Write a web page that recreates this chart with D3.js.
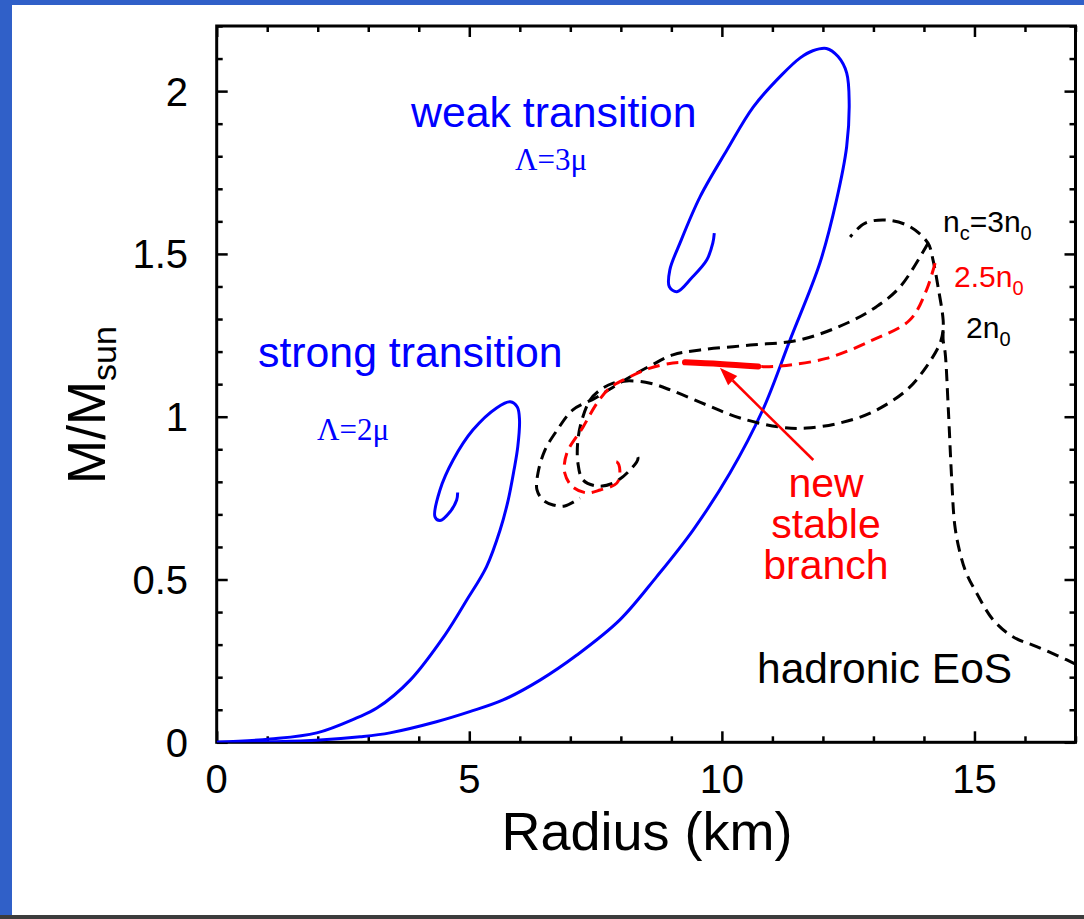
<!DOCTYPE html>
<html><head><meta charset="utf-8">
<script src="https://cdn.jsdelivr.net/npm/d3@7"></script>
<style>
html,body{margin:0;padding:0;background:#fff;}
svg{display:block;}
text{font-family:"Liberation Sans", Arial, Helvetica, sans-serif;}
</style></head><body>
<svg id="chart" width="1084" height="919"></svg>
<script>
// ---- tick definitions ----
const xMajorTicks = [0, 5, 10, 15];
const xMinorTicks = [1, 2, 3, 4, 6, 7, 8, 9, 11, 12, 13, 14, 16, 17];
const xTickLabels = ["0", "5", "10", "15"];
const yMajorTicks = [0, 0.5, 1, 1.5, 2];
const yMinorTicks = [0.1, 0.2, 0.3, 0.4, 0.6, 0.7, 0.8, 0.9, 1.1, 1.2, 1.3, 1.4, 1.6, 1.7, 1.8, 1.9, 2.1, 2.2];
const yTickLabels = ["0", "0.5", "1", "1.5", "2"];

// ---- data (Radius km, Mass Msun) ----
const weakR = [0, 1.19, 2.04, 2.84, 3.43, 4.35, 5.01, 5.67, 6.40, 7.13, 7.98, 8.71, 9.43, 10.16, 10.81, 11.35, 11.94, 12.27, 12.47, 12.52, 12.47, 12.30, 12.07, 11.80, 11.55, 11.18, 10.62, 10.10, 9.57, 9.17, 8.97, 8.96, 9.11, 9.40, 9.70, 9.82, 9.85];
const weakM = [0, 0.002, 0.007, 0.017, 0.029, 0.063, 0.094, 0.130, 0.191, 0.268, 0.376, 0.509, 0.652, 0.827, 1.021, 1.236, 1.472, 1.666, 1.829, 1.963, 2.056, 2.106, 2.131, 2.124, 2.102, 2.049, 1.951, 1.819, 1.676, 1.533, 1.451, 1.399, 1.384, 1.426, 1.481, 1.533, 1.564];

const strongR = [0, 1.06, 1.98, 2.77, 3.17, 3.83, 4.52, 4.95, 5.34, 5.61, 5.77, 5.885, 5.96, 5.994, 5.95, 5.81, 5.54, 5.07, 4.68, 4.42, 4.32, 4.42, 4.62, 4.75, 4.77];
const strongM = [0, 0.010, 0.029, 0.075, 0.105, 0.191, 0.330, 0.437, 0.539, 0.652, 0.744, 0.836, 0.908, 0.990, 1.030, 1.046, 1.027, 0.959, 0.867, 0.775, 0.693, 0.681, 0.708, 0.744, 0.767];

const hadronR = [17.0, 16.83, 16.23, 15.76, 15.37, 15.04, 14.83, 14.70, 14.61, 14.55, 14.48, 14.42, 14.38, 14.38, 14.28, 14.18, 14.08, 13.72, 13.26, 12.83, 12.54];
const hadronM = [0.240, 0.253, 0.294, 0.324, 0.376, 0.459, 0.523, 0.591, 0.667, 0.806, 1.031, 1.196, 1.236, 1.297, 1.398, 1.481, 1.533, 1.584, 1.604, 1.594, 1.552];

const n3R = [14.08, 13.53, 13.06, 12.54, 11.55, 10.56, 9.57, 9.03, 8.58, 8.18, 7.88, 7.49, 7.05, 6.74, 6.50, 6.36, 6.34, 6.46, 6.66, 6.89, 7.19];
const n3M = [1.533, 1.399, 1.338, 1.292, 1.236, 1.220, 1.205, 1.190, 1.156, 1.122, 1.094, 1.057, 1.021, 0.959, 0.898, 0.827, 0.775, 0.744, 0.729, 0.726, 0.750];

const n25R = [14.22, 14.05, 13.72, 12.99, 12.07, 11.15, 10.72, 9.96, 9.27, 9.03, 8.58, 8.12, 7.78, 7.53, 7.25, 6.93, 6.89, 7.05, 7.33, 7.59, 7.92, 7.98, 7.92, 7.79];
const n25M = [1.472, 1.389, 1.297, 1.236, 1.179, 1.156, 1.154, 1.162, 1.167, 1.165, 1.149, 1.118, 1.088, 1.042, 0.968, 0.888, 0.827, 0.784, 0.766, 0.775, 0.796, 0.836, 0.861, 0.858];

const n2R = [14.38, 14.32, 14.05, 13.66, 12.99, 12.34, 11.68, 11.15, 10.36, 9.70, 9.03, 8.58, 8.12, 7.85, 7.59, 7.39, 7.23, 7.15, 7.15, 7.25, 7.53, 7.85, 8.18, 8.34, 8.24];
const n2M = [1.266, 1.226, 1.154, 1.082, 1.015, 0.981, 0.965, 0.968, 0.996, 1.036, 1.079, 1.103, 1.110, 1.103, 1.082, 1.051, 0.990, 0.928, 0.858, 0.806, 0.787, 0.796, 0.836, 0.873, 0.892];

const stableR = [9.27, 9.96, 10.72];
const stableM = [1.167, 1.162, 1.154];

const arrowFrom = [11.81, 0.867];
const arrowTo = [9.96, 1.150];

// ---- setup ----
const svg = d3.select("#chart");
const x = d3.scaleLinear().domain([0, 17]).range([216.7, 1075.5]);
const y = d3.scaleLinear().domain([0, 2.2]).range([742.3, 26]);

// page decoration
svg.append("rect").attr("x", 0).attr("y", 0).attr("width", 1084).attr("height", 919).attr("fill", "#fff");
svg.append("rect").attr("x", 0).attr("y", 0).attr("width", 1084).attr("height", 5).attr("fill", "#3060C8");
svg.append("rect").attr("x", 0).attr("y", 0).attr("width", 12).attr("height", 915).attr("fill", "#3060C8");
svg.append("rect").attr("x", 0).attr("y", 915).attr("width", 1084).attr("height", 4).attr("fill", "#3c3c3c");

// ---- axes (ticks inward) ----
const axW = 2.5;
function styleAxis(g) {
  g.select(".domain").remove();
  g.selectAll(".tick line").attr("stroke", "#000").attr("stroke-width", axW);
  g.selectAll(".tick text").remove();
}
const gBot = svg.append("g").attr("transform", `translate(0,${y(0)})`);
gBot.append("g").call(d3.axisBottom(x).tickValues(xMajorTicks).tickSize(-11)).call(styleAxis);
gBot.append("g").call(d3.axisBottom(x).tickValues(xMinorTicks).tickSize(-6)).call(styleAxis);
const gTop = svg.append("g").attr("transform", `translate(0,${y(2.2)})`);
gTop.append("g").call(d3.axisTop(x).tickValues(xMajorTicks).tickSize(-11)).call(styleAxis);
gTop.append("g").call(d3.axisTop(x).tickValues(xMinorTicks).tickSize(-6)).call(styleAxis);
const gLeft = svg.append("g").attr("transform", `translate(${x(0)},0)`);
gLeft.append("g").call(d3.axisLeft(y).tickValues(yMajorTicks).tickSize(-11)).call(styleAxis);
gLeft.append("g").call(d3.axisLeft(y).tickValues(yMinorTicks).tickSize(-6)).call(styleAxis);
const gRight = svg.append("g").attr("transform", `translate(${x(17)},0)`);
gRight.append("g").call(d3.axisRight(y).tickValues(yMajorTicks).tickSize(-11)).call(styleAxis);
gRight.append("g").call(d3.axisRight(y).tickValues(yMinorTicks).tickSize(-6)).call(styleAxis);

svg.append("rect")
  .attr("x", x(0)).attr("y", y(2.2))
  .attr("width", x(17) - x(0)).attr("height", y(0) - y(2.2))
  .attr("fill", "none").attr("stroke", "#000").attr("stroke-width", 3);

// tick labels
svg.append("g").selectAll("text").data(xMajorTicks).join("text")
  .attr("x", d => x(d)).attr("y", 793)
  .attr("text-anchor", "middle").attr("font-size", 40).attr("fill", "#000")
  .text((d, i) => xTickLabels[i]);
svg.append("g").selectAll("text").data(yMajorTicks).join("text")
  .attr("x", 188).attr("y", d => y(d) + 14.5)
  .attr("text-anchor", "end").attr("font-size", 40).attr("fill", "#000")
  .text((d, i) => yTickLabels[i]);

// axis titles
svg.append("text").attr("x", 647).attr("y", 850).attr("text-anchor", "middle")
  .attr("font-size", 54).attr("fill", "#000").text("Radius (km)");
const yl = svg.append("text").attr("transform", "translate(105,405) rotate(-90)")
  .attr("text-anchor", "middle").attr("font-size", 53).attr("fill", "#000");
yl.append("tspan").text("M/M");
yl.append("tspan").attr("font-size", 34).attr("dy", 11).text("sun");

// ---- curves ----
svg.append("clipPath").attr("id", "plotclip").append("rect")
  .attr("x", x(0)).attr("y", y(2.2)).attr("width", x(17) - x(0)).attr("height", y(0) - y(2.2));
const plot = svg.append("g").attr("clip-path", "url(#plotclip)");
const line = d3.line().x(d => x(d[0])).y(d => y(d[1])).curve(d3.curveCatmullRom.alpha(0.5));
const zip = (a, b) => a.map((v, i) => [v, b[i]]);

plot.append("path").attr("d", line(zip(weakR, weakM))).attr("fill", "none").attr("stroke", "#0000FF").attr("stroke-width", 3);
plot.append("path").attr("d", line(zip(strongR, strongM))).attr("fill", "none").attr("stroke", "#0000FF").attr("stroke-width", 3);

const dash = "12,7";
plot.append("path").attr("d", line(zip(hadronR, hadronM))).attr("fill", "none").attr("stroke", "#000").attr("stroke-width", 3).attr("stroke-dasharray", dash);
plot.append("path").attr("d", line(zip(n3R, n3M))).attr("fill", "none").attr("stroke", "#000").attr("stroke-width", 3).attr("stroke-dasharray", dash);
plot.append("path").attr("d", line(zip(n2R, n2M))).attr("fill", "none").attr("stroke", "#000").attr("stroke-width", 3).attr("stroke-dasharray", dash);
plot.append("path").attr("d", line(zip(n25R, n25M))).attr("fill", "none").attr("stroke", "#FF0000").attr("stroke-width", 3).attr("stroke-dasharray", dash);
plot.append("path").attr("d", line(zip(stableR, stableM))).attr("fill", "none").attr("stroke", "#FF0000").attr("stroke-width", 6).attr("stroke-linecap", "round");

// arrow
const ax1 = x(arrowFrom[0]), ay1 = y(arrowFrom[1]), ax2 = x(arrowTo[0]), ay2 = y(arrowTo[1]);
const ang = Math.atan2(ay2 - ay1, ax2 - ax1);
const hl = 18, hw = 6.5;
const bx = ax2 - hl * Math.cos(ang), by = ay2 - hl * Math.sin(ang);
svg.append("line").attr("x1", ax1).attr("y1", ay1).attr("x2", bx).attr("y2", by)
  .attr("stroke", "#FF0000").attr("stroke-width", 2.5);
svg.append("path").attr("d", `M${ax2},${ay2} L${bx + hw * Math.sin(ang)},${by - hw * Math.cos(ang)} L${bx - hw * Math.sin(ang)},${by + hw * Math.cos(ang)} Z`)
  .attr("fill", "#FF0000");

// ---- annotations ----
svg.append("text").attr("x", 411).attr("y", 127).attr("font-size", 42.8).attr("fill", "#0000FF").text("weak transition");
svg.append("text").attr("x", 515).attr("y", 170).attr("font-size", 31).attr("fill", "#0000FF")
  .style("font-family", "'Liberation Serif', 'Times New Roman', serif").text("Λ=3μ");
svg.append("text").attr("x", 258).attr("y", 367).attr("font-size", 42.8).attr("fill", "#0000FF").text("strong transition");
svg.append("text").attr("x", 317).attr("y", 440).attr("font-size", 31).attr("fill", "#0000FF")
  .style("font-family", "'Liberation Serif', 'Times New Roman', serif").text("Λ=2μ");

function subLabel(xp, yp, parts, color) {
  const t = svg.append("text").attr("x", xp).attr("y", yp).attr("font-size", 30).attr("fill", color);
  let shifted = false;
  parts.forEach(p => {
    const s = t.append("tspan").text(p[0]);
    if (p[1] && !shifted) { s.attr("font-size", 20).attr("dy", 8); shifted = true; }
    else if (!p[1] && shifted) { s.attr("dy", -8); shifted = false; }
  });
}
subLabel(943, 232, [["n", false], ["c", true], ["=3n", false], ["0", true]], "#000");
subLabel(954, 287, [["2.5n", false], ["0", true]], "#FF0000");
subLabel(966, 338, [["2n", false], ["0", true]], "#000");

const nsb = ["new", "stable", "branch"];
svg.append("g").selectAll("text").data(nsb).join("text")
  .attr("x", 826).attr("y", (d, i) => 497 + i * 41)
  .attr("text-anchor", "middle").attr("font-size", 41).attr("fill", "#FF0000").text(d => d);

svg.append("text").attr("x", 757).attr("y", 683).attr("font-size", 42.5).attr("fill", "#000").text("hadronic EoS");
</script>
</body></html>
